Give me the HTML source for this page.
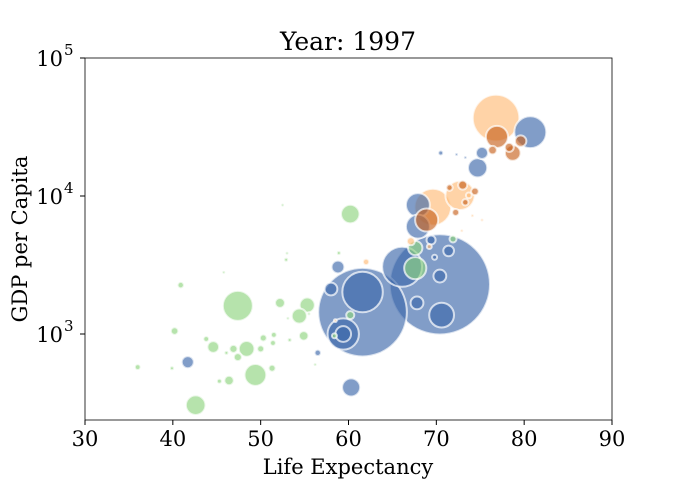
<!DOCTYPE html>
<html><head><meta charset="utf-8"><style>
body{margin:0;background:#fff;}
svg text{font-family:"DejaVu Serif","Liberation Serif",serif;fill:#000;}
</style></head><body>
<svg id="chart" width="680" height="480" xmlns="http://www.w3.org/2000/svg">
<text x="348" y="50" font-size="25" text-anchor="middle">Year: 1997</text>
<g id="bubbles"></g>
<rect x="85" y="58" width="527" height="362" fill="none" stroke="#000" stroke-width="0.8"/>
<g id="xticks"></g>
<g id="yticks"></g>
<text x="348" y="474" font-size="21" text-anchor="middle">Life Expectancy</text>
<text transform="translate(27,239) rotate(-90)" font-size="21" text-anchor="middle">GDP per Capita</text>
</svg>
<script>
const lifeExp=[60.2,40.9,47.4,52.2,55.3,54.4,40.2,43.8,44.6,46.9,48.4,50,50.3,51.5,51.4,54.9,53.3,47.4,46.1,36,39.9,51.3,49.4,46.4,45.3,42.6,52.5,53.0,52.9,58.9,45.8,53.1,55.5,56.2,71.9,67.6,67.6,60.2,58.4,
58.8,58,61.6,61.6,70.4,66.1,70.4,71.4,67.8,70.6,59.4,59.4,56.5,60.3,41.7,69.8,69.4,80.7,70.5,75.2,74.7,72.3,73.3,67.9,67.9,
76.8,72.7,73.7,69.6,62,67.1,58.5,72.9,74.1,69.2,75.2,
78.7,76.9,79.6,78.3,76.4,74.4,68.9,71.5,72.2,73.3,73.0];
const gdp=[7400,2260,1600,1680,1620,1350,1050,920,805,780,780,780,935,985,860,970,905,680,730,575,565,565,505,460,455,305,8600,3850,3450,3860,2800,1300,1400,600,4880,3000,4200,1370,970,
3060,2120,2015,1440,2290,3070,2630,4000,1680,1370,1000,1000,730,410,625,3600,4800,29000,20500,20500,16000,20000,19000,8600,6000,
36700,10100,10100,8300,3330,4700,1250,5600,7200,4300,6700,
20500,26800,25000,22500,21500,10800,6700,11500,7600,9000,12000];
const popM=[42,5,110,12,28,28,7,4,17,8,30,6,6,4,4,11,2,8,2,4,2,6,58,11,3,47,1,1,2,2,1,1,1,1,6,60,25,8,3,
20,20,200,960,1230,195,20,14,20,75,30,120,5,40,18,3,10,125,3,18,45,1,1,70,70,
265,105,4,165,5,8,1,1,1,3,1,
30,60,16,10,9,7,65,5,6,5,10];
const region=["af","af","af","af","af","af","af","af","af","af","af","af","af","af","af","af","af","af","af","af","af","af","af","af","af","af","af","af","af","af","af","af","af","af","af","af","af","af","af",
"as","as","as","as","as","as","as","as","as","as","as","as","as","as","as","as","as","as","as","as","as","as","as","as","as",
"am","am","am","am","am","am","am","am","am","am","am",
"eu","eu","eu","eu","eu","eu","eu","eu","eu","eu","eu"];
const xTicks=[30,40,50,60,70,80,90];
const yTickExps=[3,4,5];
const colors={af:"#8fd47f",as:"#3e68aa",am:"#ffbb78",eu:"#c8621e"};
const X=v=>85+(v-30)*527/60;
const Y=v=>334-(Math.log10(v)-3)*138;
const R=p=>1.43*Math.sqrt(p);
const NS="http://www.w3.org/2000/svg";
const g=document.getElementById('bubbles');
const idx=lifeExp.map((_,i)=>i).sort((a,b)=>popM[b]-popM[a]);
idx.forEach(i=>{
 const c=document.createElementNS(NS,'circle');
 c.setAttribute('cx',X(lifeExp[i]));c.setAttribute('cy',Y(gdp[i]));
 c.setAttribute('r',Math.max(1.2,R(popM[i])));
 c.setAttribute('fill',colors[region[i]]);c.setAttribute('fill-opacity','0.65');
 c.setAttribute('stroke','#fff');c.setAttribute('stroke-opacity','0.7');c.setAttribute('stroke-width','2');
 
 
 g.appendChild(c);
});
const xt=document.getElementById('xticks');
xTicks.forEach(t=>{
 const l=document.createElementNS(NS,'line');
 l.setAttribute('x1',X(t));l.setAttribute('x2',X(t));l.setAttribute('y1',420);l.setAttribute('y2',425);l.setAttribute('stroke','#000');
 
 
 xt.appendChild(l);
 const tx=document.createElementNS(NS,'text');
 tx.setAttribute('x',X(t));tx.setAttribute('y',446);tx.setAttribute('font-size','21');tx.setAttribute('text-anchor','middle');
 tx.textContent=t;
 
 
 xt.appendChild(tx);
});
const yt=document.getElementById('yticks');
yTickExps.forEach(e=>{
 const y=Y(Math.pow(10,e));
 const l=document.createElementNS(NS,'line');
 l.setAttribute('x1',80);l.setAttribute('x2',85);l.setAttribute('y1',y);l.setAttribute('y2',y);l.setAttribute('stroke','#000');
 
 
 yt.appendChild(l);
 const tx=document.createElementNS(NS,'text');
 tx.setAttribute('x',63);tx.setAttribute('y',y+8);tx.setAttribute('font-size','21');tx.setAttribute('text-anchor','end');
 tx.textContent='10';
 
 
 yt.appendChild(tx);
 const sp=document.createElementNS(NS,'text');
 sp.setAttribute('x',64);sp.setAttribute('y',y-3);sp.setAttribute('font-size','15');
 sp.textContent=e;
 
 
 yt.appendChild(sp);
});
</script>
</body></html>
